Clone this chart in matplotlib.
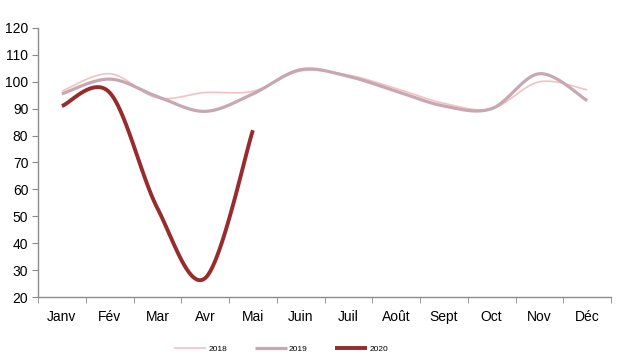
import matplotlib
matplotlib.use("Agg")
import matplotlib.pyplot as plt
import numpy as np

months = ["Janv", "Fév", "Mar", "Avr", "Mai", "Juin", "Juil", "Août", "Sept", "Oct", "Nov", "Déc"]
s2018 = [96.5, 103, 94, 96, 96.5, 104, 102.5, 97.5, 92, 90, 100, 97]
s2019 = [95.5, 101, 94.5, 89, 95.5, 104.5, 102, 96.5, 91, 90, 103, 93]
s2020 = [91, 96, 53, 27, 82]
yticks = [20, 30, 40, 50, 60, 70, 80, 90, 100, 110, 120]

plt.rcParams['font.family'] = ['Liberation Sans', 'DejaVu Sans']


def smooth(x, y, n=30):
    x = np.asarray(x, float)
    y = np.asarray(y, float)
    px = np.concatenate([[x[0]], x, [x[-1]]])
    py = np.concatenate([[y[0]], y, [y[-1]]])
    xs, ys = [], []
    t = np.linspace(0, 1, n)
    for i in range(1, len(px) - 2):
        p0 = np.array([px[i], py[i]])
        p3 = np.array([px[i + 1], py[i + 1]])
        p1 = p0 + (np.array([px[i + 1], py[i + 1]]) - np.array([px[i - 1], py[i - 1]])) / 6
        p2 = p3 - (np.array([px[i + 2], py[i + 2]]) - np.array([px[i], py[i]])) / 6
        b = ((1 - t) ** 3)[:, None] * p0 + (3 * (1 - t) ** 2 * t)[:, None] * p1 \
            + (3 * (1 - t) * t ** 2)[:, None] * p2 + (t ** 3)[:, None] * p3
        xs.extend(b[:, 0]); ys.extend(b[:, 1])
    return np.array(xs), np.array(ys)


fig = plt.figure(figsize=(6.21, 3.54), dpi=100)
ax = fig.add_axes([0.0612, 0.161, 0.9228, 0.76])

x = np.arange(len(months))
for data, color, lw, label in [
    (s2018, "#F2C2C2", 1.2, "2018"),
    (s2019, "#C7A7B2", 2.3, "2019"),
    (s2020, "#982B2B", 2.8, "2020"),
]:
    xs, ys = smooth(x[:len(data)], data)
    ax.plot(xs, ys, color=color, lw=lw, label=label, solid_capstyle="butt")

ax.set_xlim(-0.5, 11.5)
ax.set_ylim(20, 120)
ax.set_yticks(yticks)
ax.set_yticklabels([str(v) for v in yticks], fontsize=10)
ax.set_xticks(x)
ax.set_xticklabels(months, fontsize=10)
ax.set_xticks(np.arange(-0.5, 12, 1), minor=True)
ax.tick_params(axis="x", which="major", length=0, pad=9)
ax.tick_params(axis="x", which="minor", length=4, color="#8C8C8C", direction="out")
ax.tick_params(axis="y", length=4, color="#8C8C8C", direction="out", pad=3)
for s in ["top", "right"]:
    ax.spines[s].set_visible(False)
for s in ["left", "bottom"]:
    ax.spines[s].set_color("#8C8C8C")
    ax.spines[s].set_linewidth(1.0)

leg = fig.legend(loc="center", bbox_to_anchor=(0.453, 0.013), ncol=3, frameon=False,
                 fontsize=6, handlelength=3.8, columnspacing=3.3, handletextpad=0.3)
fig.savefig("out.png", dpi=100)
